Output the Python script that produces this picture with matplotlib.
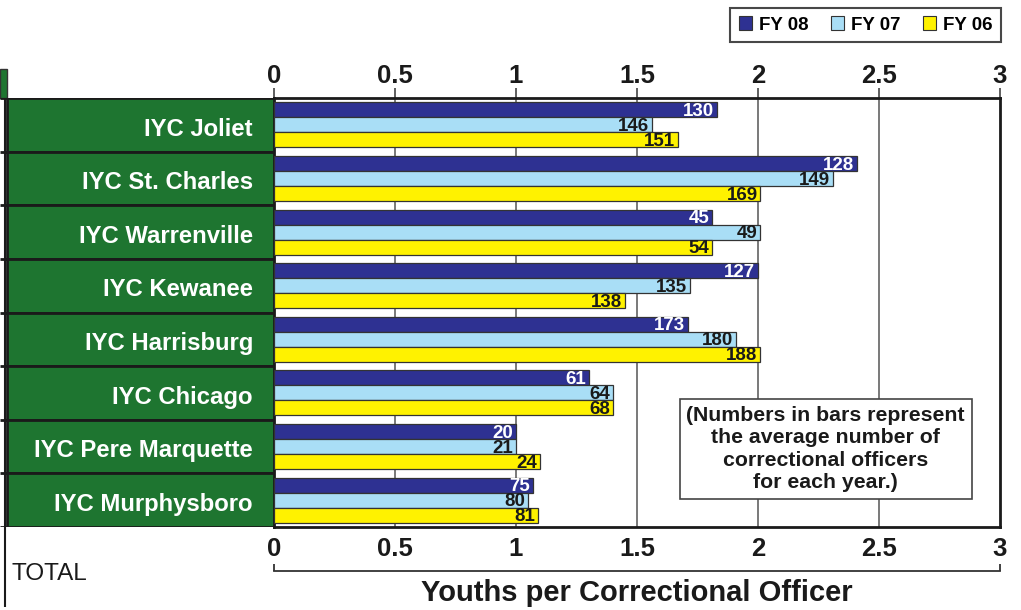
import matplotlib
matplotlib.use("Agg")
import matplotlib.pyplot as plt
from matplotlib.patches import Patch, Rectangle
import numpy as np

plt.rcParams['font.family'] = ['Liberation Sans', 'DejaVu Sans']

categories = ["IYC Joliet", "IYC St. Charles", "IYC Warrenville", "IYC Kewanee",
              "IYC Harrisburg", "IYC Chicago", "IYC Pere Marquette", "IYC Murphysboro"]
series_names = ["FY 08", "FY 07", "FY 06"]
fy08 = [1.83, 2.41, 1.81, 2.00, 1.71, 1.30, 1.00, 1.07]
fy07 = [1.56, 2.31, 2.01, 1.72, 1.91, 1.40, 1.00, 1.05]
fy06 = [1.67, 2.01, 1.81, 1.45, 2.01, 1.40, 1.10, 1.09]
officers08 = [130, 128, 45, 127, 173, 61, 20, 75]
officers07 = [146, 149, 49, 135, 180, 64, 21, 80]
officers06 = [151, 169, 54, 138, 188, 68, 24, 81]
xticks = [0, 0.5, 1, 1.5, 2, 2.5, 3]
xtick_labels = ["0", "0.5", "1", "1.5", "2", "2.5", "3"]
xlabel = "Youths per Correctional Officer"
note = "(Numbers in bars represent\nthe average number of\ncorrectional officers\nfor each year.)"
total_label = "TOTAL"

colors = ["#2E3192", "#A9DEF6", "#FFF200"]
label_colors = ["white", "#1a1a1a", "#1a1a1a"]
green = "#1E7530"
dark = "#1a1a1a"

W, H = 1021, 610
fig = plt.figure(figsize=(W / 100, H / 100), dpi=100)

top_px, bot_px = 98, 527
left_px, right_px = 274, 1000
ax = fig.add_axes([left_px / W, 1 - bot_px / H, (right_px - left_px) / W, (bot_px - top_px) / H])
pan = fig.add_axes([0, 1 - bot_px / H, left_px / W, (bot_px - top_px) / H])

n = len(categories)
y = np.arange(n)
h = 0.28
offsets = [-h, 0, h]
for vals, offs, col, nums, lc in zip([fy08, fy07, fy06], offsets, colors,
                                     [officers08, officers07, officers06], label_colors):
    bars = ax.barh(y + offs, vals, height=h, color=col, edgecolor="#333333",
                   linewidth=0.9, zorder=3)
    for b, v, num in zip(bars, vals, nums):
        ax.annotate(str(num), xy=(v, b.get_y() + b.get_height() / 2 + 0.115),
                    xytext=(-2, 0), textcoords="offset points",
                    ha="right", va="baseline", fontsize=13.5, fontweight="bold",
                    color=lc, zorder=4)

ax.set_xlim(0, 3)
ax.set_ylim(n - 0.5, -0.5)
ax.set_yticks([])
ax.set_xticks(xticks)
ax.set_xticklabels(xtick_labels)
ax.tick_params(axis="x", top=True, labeltop=True, bottom=False, labelbottom=True,
               direction="out", length=7, width=1.2, color="#444444",
               labelsize=18.5, pad=0)
for t in ax.xaxis.get_major_ticks():
    t.label1.set_fontweight("bold")
    t.label1.set_color(dark)
    t.label2.set_fontweight("bold")
    t.label2.set_color(dark)
for x in xticks[1:-1]:
    ax.axvline(x, color="#555555", linewidth=1.1, zorder=1)
for s in ax.spines.values():
    s.set_linewidth(2)
    s.set_color(dark)

# bracket axis
sec = ax.secondary_xaxis("bottom")
sec.spines["bottom"].set_position(("outward", 32))
sec.spines["bottom"].set_linewidth(1.3)
sec.spines["bottom"].set_color("#333333")
sec.set_xticks([0, 3])
sec.set_xticklabels(["", ""])
sec.tick_params(axis="x", direction="in", length=5, width=1.3, color="#333333")
sec.set_xlabel(xlabel, fontsize=21, fontweight="bold", color=dark, labelpad=2)

ax.text(0.76, 0.182, note, transform=ax.transAxes, ha="center", va="center",
        fontsize=15.3, fontweight="bold", color=dark, linespacing=1.24, zorder=6,
        bbox=dict(boxstyle="square,pad=0.32", facecolor="white", edgecolor="#444444",
                  linewidth=1.2))

# left label panel
pan.set_xlim(0, left_px)
pan.set_ylim(n - 0.5, -0.5)
pan.axis("off")
pan.barh(y, [left_px - 7] * n, left=7, height=1.0, color=green, edgecolor=dark,
         linewidth=2, zorder=2)
for yi, c in zip(y, categories):
    pan.text(253, yi + 0.2, c, ha="right", va="baseline", fontsize=17.2,
             fontweight="bold", color="white", zorder=3)
pan.hlines(np.arange(n + 1) - 0.5, 0, 7, color=dark, linewidth=2, zorder=3)
pan.add_patch(Rectangle((0, -1.05), 7, 0.55, facecolor=green, edgecolor="#333333",
                        linewidth=1, clip_on=False))
pan.vlines(5, -0.5, 9.0, color=dark, linewidth=1.5, clip_on=False)
pan.text(12, 8.38, total_label, ha="left", va="center", fontsize=17.5,
         color=dark, clip_on=False)

handles = [Patch(facecolor=c, edgecolor="#333333", linewidth=0.8) for c in colors]
leg = fig.legend(handles, series_names, ncol=3, loc="upper right",
                 bbox_to_anchor=(1001 / W, 1 - 8 / H), frameon=True, fancybox=False,
                 prop=dict(family="Liberation Sans", weight="bold", size=13.5),
                 handlelength=0.7, handleheight=0.7, handletextpad=0.37,
                 columnspacing=1.2, borderpad=0.45, borderaxespad=0)
leg.get_frame().set_edgecolor(dark)
leg.get_frame().set_linewidth(1.5)

fig.savefig("out.png", dpi=100)
